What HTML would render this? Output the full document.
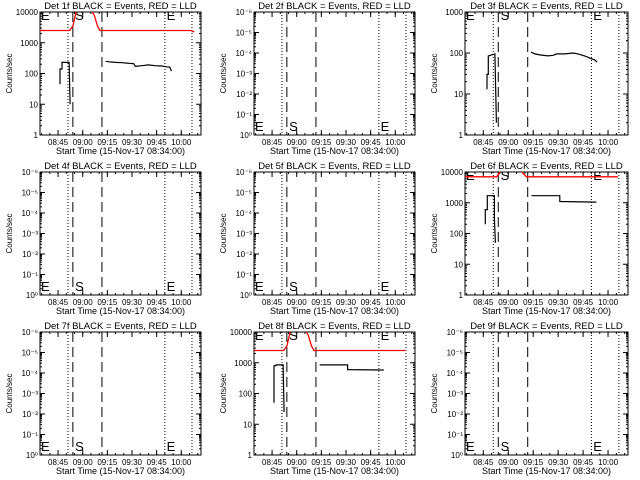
<!DOCTYPE html>
<html><head><meta charset="utf-8">
<style>
html,body{margin:0;padding:0;background:#fff;}
svg{display:block;font-family:"Liberation Sans",sans-serif;}
</style></head>
<body>
<svg id="chart" width="640" height="480" viewBox="0 0 640 480" xmlns="http://www.w3.org/2000/svg"></svg>
<script>
// ---- data (minutes after 08:34:00) ----
const detNames = ["1f","2f","3f","4f","5f","6f","7f","8f","9f"];
const tickLabels = ["08:45","09:00","09:15","09:30","09:45","10:00"];
const tickMinutes = [11,26,41,56,71,86];
const timeRange = [0,98];
const dottedLines = [17,76,92.5];
const dashedLines = [20,37.7];
const yDecades = [4,0,3,0,0,4,0,4,0];

const red1T = [0,18,20,22,24,31,33,35,36.5,92,93,94];
const red1V = [2500,2500,3500,10000,12000,12000,8000,3500,2500,2500,2300,2300];
const blk1aT = [12.2,12.2,13.4,13.4,17.7,17.7,18.3];
const blk1aV = [45,140,140,230,230,230,10];
const blk1bT = [40,42,46,50,54,57,58,62,66,70,74,77,79,80];
const blk1bV = [250,240,230,225,215,210,170,180,190,180,175,165,160,120];

const blk3aT = [13.2,13.2,14,14,18,18,18.9];
const blk3aV = [13,30,30,85,95,95,2];
const blk3bT = [39.7,42,45,50,53,55,60,65,68,70,73,75,78,79.4];
const blk3bV = [105,95,90,85,88,95,95,100,95,90,82,75,68,60];

const red6T = [0,19,20.5,22,33,35,37,92];
const red6V = [7000,7000,9000,12000,12000,9000,7000,7000];
const blk6aT = [12.2,12.2,13.4,13.4,17.7,17.7,18.3];
const blk6aV = [200,600,600,1700,1700,300,50];
const blk6bT = [40,57,57,79];
const blk6bV = [1700,1700,1100,1050];

const red8T = [0,18,20,22,24,31,33,35,36.5,92];
const red8V = [2500,2500,3500,10000,12000,12000,8000,3500,2500,2500];
const blk8aT = [12.2,12.2,13.4,13.4,17.7,17.7,18.3];
const blk8aV = [50,800,800,850,850,850,25];
const blk8bT = [40,57,57,79];
const blk8bV = [850,850,600,580];

const series = {
  0:[[red1T,red1V,"red"],[blk1aT,blk1aV,"black"],[blk1bT,blk1bV,"black"]],
  2:[[blk3aT,blk3aV,"black"],[blk3bT,blk3bV,"black"]],
  5:[[red6T,red6V,"red"],[blk6aT,blk6aV,"black"],[blk6bT,blk6bV,"black"]],
  7:[[red8T,red8V,"red"],[blk8aT,blk8aV,"black"],[blk8bT,blk8bV,"black"]]
};
const emptyLabels = ["10\u2070","10\u207B\u00B9","10\u207B\u00B2","10\u207B\u00B3","10\u207B\u2074","10\u207B\u2075","10\u207B\u2076"];

const NS="http://www.w3.org/2000/svg";
const svg=document.getElementById("chart");
function mk(tag,attrs,parent){const e=document.createElementNS(NS,tag);for(const k in attrs)e.setAttribute(k,attrs[k]);(parent||svg).appendChild(e);return e;}

detNames.forEach((d,i)=>{
  const col=i%3,row=Math.floor(i/3);
  const L=[40,254,465][col],R=L+161+(col==2?2:0);
  const T=12+row*160,B=T+123;
  const g=mk("g",{});
  
  
  const dec=yDecades[i];
  const nd=dec===0?6:dec;
  const xs=t=>L+(t-timeRange[0])/(timeRange[1]-timeRange[0])*(R-L);
  const ys=v=>B-Math.log10(v)/nd*(B-T);
  const cp=mk("clipPath",{id:"c"+i},g);mk("rect",{x:L,y:T,width:R-L,height:B-T},cp);
  const tt=mk("text",{x:(L+R)/2,y:T-3,"font-size":"9.5","text-anchor":"middle"},g);
  tt.textContent="Det "+d+" BLACK = Events, RED = LLD";
  
  
  const yt=mk("text",{x:0,y:0,"font-size":"8","text-anchor":"middle",transform:`translate(${L-28},${(T+B)/2}) rotate(-90)`},g);
  yt.textContent="Counts/sec";
  
  
  const xt=mk("text",{x:(L+R)/2,y:B+19,"font-size":"9","text-anchor":"middle"},g);
  xt.textContent="Start Time (15-Nov-17 08:34:00)";
  
  
  const bx=mk("rect",{x:L,y:T,width:R-L,height:B-T,fill:"none",stroke:"#000","stroke-width":1},g);
  
  
  tickMinutes.forEach((m,k)=>{
    const x=xs(m);
    mk("line",{x1:x,x2:x,y1:B,y2:B-5,stroke:"#000"},g);
    mk("line",{x1:x,x2:x,y1:T,y2:T+5,stroke:"#000"},g);
    const lb=mk("text",{x:x,y:B+10,"font-size":"8","text-anchor":"middle"},g);
    lb.textContent=tickLabels[k];
    
    
  });
  for(let m=1;m<timeRange[1];m+=5){const x=xs(m);mk("line",{x1:x,x2:x,y1:B,y2:B-2,stroke:"#000"},g);mk("line",{x1:x,x2:x,y1:T,y2:T+2,stroke:"#000"},g);}
  for(let k=0;k<=nd;k++){
    const y=B-k/nd*(B-T);
    mk("line",{x1:L,x2:L+5,y1:y,y2:y,stroke:"#000"},g);
    mk("line",{x1:R,x2:R-5,y1:y,y2:y,stroke:"#000"},g);
    const lb=mk("text",{x:L-2,y:y+3,"font-size":"8","text-anchor":"end"},g);
    lb.textContent=dec===0?emptyLabels[k]:String(Math.pow(10,k));
    
    
    if(k<nd)for(let s=2;s<10;s++){const yy=y-Math.log10(s)/nd*(B-T);mk("line",{x1:L,x2:L+2,y1:yy,y2:yy,stroke:"#000"},g);mk("line",{x1:R,x2:R-2,y1:yy,y2:yy,stroke:"#000"},g);}
  }
  dottedLines.forEach(m=>{const l=mk("line",{x1:xs(m),x2:xs(m),y1:T,y2:B,stroke:"#000","stroke-dasharray":"1,2"},g);});
  dashedLines.forEach(m=>{const l=mk("line",{x1:xs(m),x2:xs(m),y1:T,y2:B,stroke:"#000","stroke-dasharray":"10,5"},g);});
  const top=dec!==0;
  [["E",0],["S",dashedLines[0]+0.8],["E",dottedLines[1]+0.5]].forEach(([c,m])=>{
    const e=mk("text",{x:xs(m)+1,y:top?T+8:B-4,"font-size":"13","clip-path":`url(#c${i})`},g);
    e.textContent=c;
    
    
  });
  (series[i]||[]).forEach(([ts,vs,c])=>{
    const pts=ts.map((t,k)=>xs(t).toFixed(1)+","+ys(vs[k]).toFixed(1)).join(" ");
    const p=mk("polyline",{points:pts,fill:"none",stroke:c==="red"?"#ff0000":"#000","stroke-width":c==="red"?1.3:1.2,"clip-path":`url(#c${i})`},g);
    
    
  });
});
</script>
</body></html>
